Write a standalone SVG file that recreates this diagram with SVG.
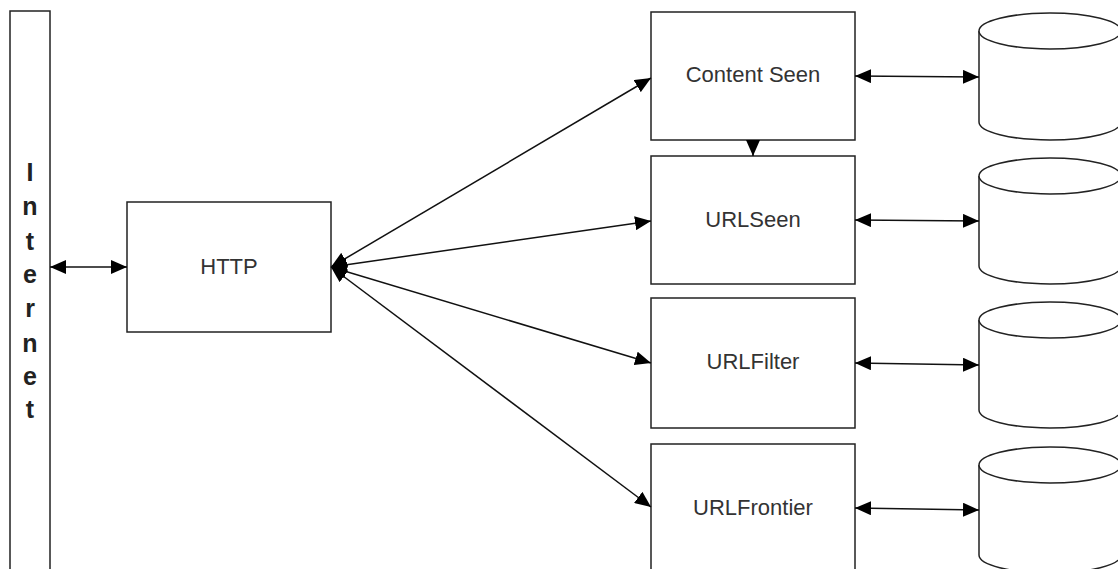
<svg xmlns="http://www.w3.org/2000/svg" width="1118" height="569" viewBox="0 0 1118 569">
<style>
.box{fill:#fff;stroke:#222;stroke-width:1.5}
.lbl{font-family:"Liberation Sans",Arial,sans-serif;font-size:22px;fill:#333;text-anchor:middle}
.vl{font-family:"Liberation Sans",Arial,sans-serif;font-size:25px;font-weight:bold;fill:#222;text-anchor:middle}
.ln{stroke:#111;stroke-width:1.5;fill:none}
</style>
<defs>
<marker id="ah" markerUnits="userSpaceOnUse" markerWidth="16" markerHeight="14" refX="16" refY="7" orient="auto-start-reverse" viewBox="0 0 16 14">
<path d="M0,0 L16,7 L0,14 Z" fill="#000"/>
</marker>
</defs>
<rect width="1118" height="569" fill="#fff"/>
<g id="internet">
<rect class="box" x="10" y="11" width="40" height="600"/>
<text class="vl" x="30" y="181">I</text>
<text class="vl" x="30" y="215">n</text>
<text class="vl" x="30" y="250">t</text>
<text class="vl" x="30" y="283">e</text>
<text class="vl" x="30" y="317">r</text>
<text class="vl" x="30" y="352">n</text>
<text class="vl" x="30" y="385">e</text>
<text class="vl" x="30" y="418">t</text>
</g>
<g id="http">
<rect class="box" x="127" y="202" width="204" height="130"/>
<text class="lbl" x="229" y="274">HTTP</text>
</g>
<g id="content-seen">
<rect class="box" x="651" y="12" width="204" height="128"/>
<text class="lbl" x="753" y="82">Content Seen</text>
</g>
<g id="urlseen">
<rect class="box" x="651" y="156" width="204" height="128"/>
<text class="lbl" x="753" y="227">URLSeen</text>
</g>
<g id="urlfilter">
<rect class="box" x="651" y="298" width="204" height="130"/>
<text class="lbl" x="753" y="369">URLFilter</text>
</g>
<g id="urlfrontier">
<rect class="box" x="651" y="444" width="204" height="140"/>
<text class="lbl" x="753" y="515">URLFrontier</text>
</g>
<g id="db1">
<path class="box" d="M979,31 L979,122 A71,18 0 0 0 1121,122 L1121,31"/>
<ellipse class="box" cx="1050" cy="31" rx="71" ry="18"/>
</g>
<g id="db2">
<path class="box" d="M979,176 L979,266 A71,18 0 0 0 1121,266 L1121,176"/>
<ellipse class="box" cx="1050" cy="176" rx="71" ry="18"/>
</g>
<g id="db3">
<path class="box" d="M979,320 L979,410 A71,18 0 0 0 1121,410 L1121,320"/>
<ellipse class="box" cx="1050" cy="320" rx="71" ry="18"/>
</g>
<g id="db4">
<path class="box" d="M979,465 L979,555 A71,18 0 0 0 1121,555 L1121,465"/>
<ellipse class="box" cx="1050" cy="465" rx="71" ry="18"/>
</g>
<g id="connectors">
<line class="ln" x1="50" y1="267" x2="127" y2="267" marker-start="url(#ah)" marker-end="url(#ah)"/>
<line class="ln" x1="331" y1="267" x2="651" y2="78" marker-start="url(#ah)" marker-end="url(#ah)"/>
<line class="ln" x1="331" y1="267" x2="651" y2="221" marker-start="url(#ah)" marker-end="url(#ah)"/>
<line class="ln" x1="331" y1="267" x2="651" y2="363" marker-start="url(#ah)" marker-end="url(#ah)"/>
<line class="ln" x1="331" y1="267" x2="651" y2="507" marker-start="url(#ah)" marker-end="url(#ah)"/>
<line class="ln" x1="753" y1="140" x2="753" y2="156" marker-end="url(#ah)"/>
<line class="ln" x1="855" y1="76" x2="979" y2="77" marker-start="url(#ah)" marker-end="url(#ah)"/>
<line class="ln" x1="855" y1="220" x2="979" y2="221" marker-start="url(#ah)" marker-end="url(#ah)"/>
<line class="ln" x1="855" y1="363" x2="979" y2="365" marker-start="url(#ah)" marker-end="url(#ah)"/>
<line class="ln" x1="855" y1="508" x2="979" y2="510" marker-start="url(#ah)" marker-end="url(#ah)"/>
</g>
</svg>
